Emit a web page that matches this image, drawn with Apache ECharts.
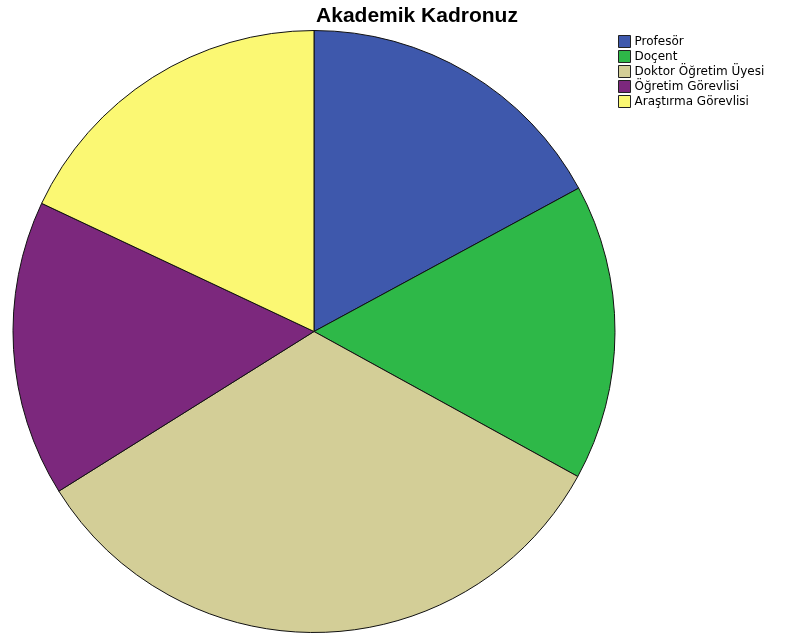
<!DOCTYPE html>
<html><head><meta charset="utf-8">
<script src="https://cdn.jsdelivr.net/npm/echarts@6/dist/echarts.min.js"></script>
<style>html,body{margin:0;padding:0;background:#fff}#c{width:785px;height:637px}</style>
</head><body><div id="c"></div>
<script>
var categories = ['Profesör', 'Doçent', 'Doktor Öğretim Üyesi', 'Öğretim Görevlisi', 'Araştırma Görevlisi'];
var values = [17.1, 15.9, 33.1, 15.9, 18.0];
var colors = ['#3E58AC', '#2EB848', '#D3CE97', '#7C287D', '#FBF873'];
var chart = echarts.init(document.getElementById('c'));
chart.setOption({
  backgroundColor: '#fff',
  animation: false,
  title: {
    text: 'Akademik Kadronuz', left: 412, top: 1, textAlign: 'center',
    textStyle: { fontFamily: 'Liberation Sans', fontWeight: 'bold', fontSize: 21, color: '#000' }
  },
  legend: {
    orient: 'vertical', left: 618, top: 35, padding: 0, itemWidth: 12, itemHeight: 12, itemGap: 2,
    icon: 'rect',
    data: categories,
    textStyle: { fontFamily: 'DejaVu Sans', fontSize: 12, color: '#000', padding: [0,0,0,-1] },
    itemStyle: { borderColor: '#222', borderWidth: 1 }
  },
  series: [{
    type: 'pie', center: [314, 331.5], radius: 301, startAngle: 90, clockwise: true,
    label: { show: false }, labelLine: { show: false },
    emphasis: { disabled: true },
    itemStyle: { borderColor: '#111', borderWidth: 1 },
    data: categories.map(function (n, i) { return { name: n, value: values[i], itemStyle: { color: colors[i] } }; })
  }]
});
</script></body></html>
